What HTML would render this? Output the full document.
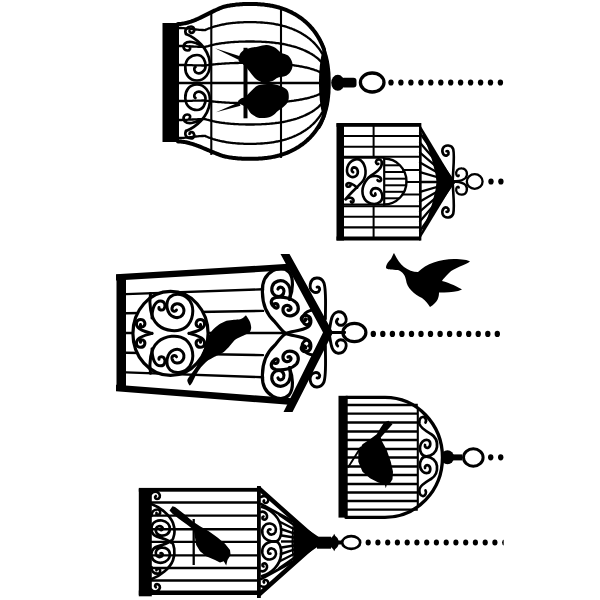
<!DOCTYPE html>
<html><head><meta charset="utf-8"><style>
html,body{margin:0;padding:0;background:#fff;width:600px;height:600px;overflow:hidden}
svg{display:block}
</style></head><body>
<svg width="600" height="600" viewBox="0 0 600 600">
<rect width="600" height="600" fill="#fff"/>
<path d="M178,24 L179,24 L180,23.9 L181,23.9 L182,23.7 L183,23.6 L184,23.4 L185,23.2 L186,23 L187,22.8 L188,22.5 L189,22.2 L190,21.9 L191,21.6 L192,21.2 L193,20.8 L194,20.5 L195,20.1 L196,19.6 L197,19.2 L198,18.8 L199,18.3 L200,17.9 L201,17.4 L202,16.9 L203,16.4 L204,15.9 L205,15.4 L206,14.9 L207,14.4 L208,13.9 L209,13.4 L210,12.9 L211,12.4 L212,11.9 L213,11.4 L214,10.9 L215,10.4 L216,10 L217,9.5 L218,9.1 L219,8.6 L220,8.2 L221,7.8 L222,7.4 L223,7 L224,6.7 L225,6.5 L226,6.3 L227,6 L228,5.8 L229,5.7 L230,5.5 L231,5.3 L232,5.2 L233,5 L234,4.9 L235,4.8 L236,4.6 L237,4.5 L238,4.5 L239,4.4 L240,4.3 L241,4.2 L242,4.2 L243,4.1 L244,4.1 L245,4.1 L246,4 L247,4 L248,4 L249,4 L250,4 L251,4 L252,4 L253,4 L254,4 L255,4.1 L256,4.1 L257,4.1 L258,4.2 L259,4.2 L260,4.3 L261,4.4 L262,4.5 L263,4.5 L264,4.6 L265,4.8 L266,4.9 L267,5 L268,5.2 L269,5.3 L270,5.5 L271,5.7 L272,5.8 L273,6 L274,6.3 L275,6.5 L276,6.7 L277,7 L278,7.2 L279,7.5 L280,7.8 L281,8.1 L282,8.5 L283,8.8 L284,9.2 L285,9.5 L286,9.9 L287,10.3 L288,10.8 L289,11.2 L290,11.7 L291,12.1 L292,12.6 L293,13.2 L294,13.7 L295,14.3 L296,14.9 L297,15.5 L298,16.1 L299,16.8 L300,17.5 L301,18.2 L302,18.9 L303,19.7 L304,20.5 L305,21.4 L306,22.2 L307,23.2 L308,24.1 L309,25.1 L310,26.2 L311,27.3 L312,28.4 L313,29.6 L314,30.9 L315,32.2 L316,33.7 L317,35.2 L318,36.8 L319,38.5 L320,40.3 L321,42.3 L322,44.4 L323,46.8 L324,49.4" fill="none" stroke="#000" stroke-width="4" stroke-linecap="round" stroke-linejoin="round"/>
<path d="M178,141.5 L179,141.5 L180,141.6 L181,141.6 L182,141.7 L183,141.8 L184,142 L185,142.1 L186,142.3 L187,142.5 L188,142.8 L189,143 L190,143.3 L191,143.6 L192,143.9 L193,144.2 L194,144.5 L195,144.9 L196,145.2 L197,145.6 L198,145.9 L199,146.3 L200,146.7 L201,147.1 L202,147.5 L203,148 L204,148.4 L205,148.8 L206,149.2 L207,149.7 L208,150.1 L209,150.5 L210,150.9 L211,151.4 L212,151.8 L213,152.2 L214,152.6 L215,153 L216,153.4 L217,153.8 L218,154.2 L219,154.6 L220,155 L221,155.3 L222,155.7 L223,156 L224,156.2 L225,156.5 L226,156.7 L227,156.9 L228,157.1 L229,157.3 L230,157.4 L231,157.6 L232,157.7 L233,157.9 L234,158 L235,158.1 L236,158.2 L237,158.3 L238,158.4 L239,158.5 L240,158.6 L241,158.6 L242,158.7 L243,158.7 L244,158.8 L245,158.8 L246,158.8 L247,158.8 L248,158.8 L249,158.8 L250,158.8 L251,158.8 L252,158.8 L253,158.8 L254,158.8 L255,158.8 L256,158.8 L257,158.7 L258,158.7 L259,158.6 L260,158.6 L261,158.5 L262,158.4 L263,158.3 L264,158.2 L265,158.1 L266,158 L267,157.9 L268,157.7 L269,157.6 L270,157.4 L271,157.3 L272,157.1 L273,156.9 L274,156.7 L275,156.5 L276,156.2 L277,156 L278,155.7 L279,155.5 L280,155.2 L281,154.9 L282,154.6 L283,154.2 L284,153.9 L285,153.5 L286,153.2 L287,152.8 L288,152.4 L289,151.9 L290,151.5 L291,151 L292,150.5 L293,150 L294,149.5 L295,149 L296,148.4 L297,147.8 L298,147.2 L299,146.6 L300,145.9 L301,145.2 L302,144.5 L303,143.8 L304,143 L305,142.2 L306,141.3 L307,140.5 L308,139.5 L309,138.6 L310,137.6 L311,136.5 L312,135.4 L313,134.2 L314,133 L315,131.7 L316,130.4 L317,128.9 L318,127.4 L319,125.7 L320,124 L321,122.1 L322,120 L323,117.8 L324,115.2" fill="none" stroke="#000" stroke-width="4" stroke-linecap="round" stroke-linejoin="round"/>
<path d="M179,28 L180,28 L181,28 L182,28.1 L183,28.1 L184,28.2 L185,28.3 L186,28.4 L187,28.5 L188,28.6 L189,28.7 L190,28.8 L191,28.9 L192,29 L193,29.2 L194,29.3 L195,29.4 L196,29.5 L197,29.6 L198,29.7 L199,29.8 L200,29.9 L201,29.9 L202,30 L203,30 L204,30.1 L205,30.1 L206,29.6 L207,29.2 L208,28.8 L209,28.4 L210,28.1 L211,27.7 L212,27.4 L213,27 L214,26.7 L215,26.4 L216,26.1 L217,25.9 L218,25.6 L219,25.4 L220,25.1 L221,24.9 L222,24.7 L223,24.5 L224,24.3 L225,24.1 L226,23.9 L227,23.7 L228,23.6 L229,23.4 L230,23.3 L231,23.2 L232,23.1 L233,22.9 L234,22.8 L235,22.8 L236,22.7 L237,22.6 L238,22.5 L239,22.5 L240,22.4 L241,22.3 L242,22.3 L243,22.3 L244,22.2 L245,22.2 L246,22.2 L247,22.2 L248,22.2 L249,22.2 L250,22.2 L251,22.2 L252,22.2 L253,22.2 L254,22.2 L255,22.2 L256,22.2 L257,22.3 L258,22.3 L259,22.3 L260,22.4 L261,22.5 L262,22.5 L263,22.6 L264,22.7 L265,22.8 L266,22.8 L267,22.9 L268,23.1 L269,23.2 L270,23.3 L271,23.4 L272,23.6 L273,23.7 L274,23.9 L275,24.1 L276,24.3 L277,24.5 L278,24.7 L279,24.9 L280,25.1 L281,25.4 L282,25.6 L283,25.9 L284,26.1 L285,26.4 L286,26.7 L287,27 L288,27.4 L289,27.7 L290,28.1 L291,28.4 L292,28.8 L293,29.2 L294,29.6 L295,30.1 L296,30.5 L297,31 L298,31.5 L299,32 L300,32.5 L301,33.1 L302,33.7 L303,34.3 L304,34.9 L305,35.5 L306,36.2 L307,36.9 L308,37.7 L309,38.4 L310,39.2 L311,40.1 L312,41 L313,41.9 L314,42.9 L315,43.9 L316,45 L317,46.2 L318,47.4 L319,48.7 L320,50.1 L321,51.6 L322,53.3" fill="none" stroke="#000" stroke-width="2.3" stroke-linecap="round" stroke-linejoin="round"/>
<path d="M179,46 L180,46 L181,46 L182,46 L183,46.1 L184,46.1 L185,46.1 L186,46.2 L187,46.2 L188,46.3 L189,46.3 L190,46.4 L191,46.4 L192,46.5 L193,46.5 L194,46.6 L195,46.6 L196,46.7 L197,46.7 L198,46.8 L199,46.8 L200,46.8 L201,46.9 L202,46.9 L203,46.9 L204,46.9 L205,46.9 L206,46.6 L207,46.3 L208,46.1 L209,45.8 L210,45.5 L211,45.3 L212,45.1 L213,44.8 L214,44.6 L215,44.4 L216,44.2 L217,44 L218,43.9 L219,43.7 L220,43.5 L221,43.4 L222,43.2 L223,43.1 L224,43 L225,42.8 L226,42.7 L227,42.6 L228,42.5 L229,42.4 L230,42.3 L231,42.2 L232,42.1 L233,42.1 L234,42 L235,41.9 L236,41.9 L237,41.8 L238,41.8 L239,41.7 L240,41.7 L241,41.6 L242,41.6 L243,41.6 L244,41.6 L245,41.6 L246,41.5 L247,41.5 L248,41.5 L249,41.5 L250,41.5 L251,41.5 L252,41.5 L253,41.5 L254,41.5 L255,41.6 L256,41.6 L257,41.6 L258,41.6 L259,41.6 L260,41.7 L261,41.7 L262,41.8 L263,41.8 L264,41.9 L265,41.9 L266,42 L267,42.1 L268,42.1 L269,42.2 L270,42.3 L271,42.4 L272,42.5 L273,42.6 L274,42.7 L275,42.8 L276,43 L277,43.1 L278,43.2 L279,43.4 L280,43.5 L281,43.7 L282,43.9 L283,44 L284,44.2 L285,44.4 L286,44.6 L287,44.8 L288,45.1 L289,45.3 L290,45.5 L291,45.8 L292,46.1 L293,46.3 L294,46.6 L295,46.9 L296,47.2 L297,47.5 L298,47.9 L299,48.2 L300,48.6 L301,49 L302,49.4 L303,49.8 L304,50.2 L305,50.6 L306,51.1 L307,51.6 L308,52.1 L309,52.6 L310,53.2 L311,53.7 L312,54.3 L313,55 L314,55.6 L315,56.4 L316,57.1 L317,57.9 L318,58.7 L319,59.6 L320,60.6 L321,61.6" fill="none" stroke="#000" stroke-width="2.3" stroke-linecap="round" stroke-linejoin="round"/>
<path d="M179,65 L180,65 L181,65 L182,65 L183,65 L184,65 L185,65.1 L186,65.1 L187,65.1 L188,65.1 L189,65.2 L190,65.2 L191,65.2 L192,65.2 L193,65.3 L194,65.3 L195,65.3 L196,65.3 L197,65.4 L198,65.4 L199,65.4 L200,65.4 L201,65.4 L202,65.5 L203,65.5 L204,65.5 L205,65.5 L206,65.3 L207,65.2 L208,65.1 L209,64.9 L210,64.8 L211,64.7 L212,64.6 L213,64.5 L214,64.4 L215,64.3 L216,64.2 L217,64.1 L218,64 L219,63.9 L220,63.8 L221,63.8 L222,63.7 L223,63.6 L224,63.6 L225,63.5 L226,63.4 L227,63.4 L228,63.3 L229,63.3 L230,63.2 L231,63.2 L232,63.1 L233,63.1 L234,63.1 L235,63 L236,63 L237,63 L238,63 L239,62.9 L240,62.9 L241,62.9 L242,62.9 L243,62.9 L244,62.9 L245,62.9 L246,62.9 L247,62.9 L248,62.9 L249,62.9 L250,62.9 L251,62.9 L252,62.9 L253,62.9 L254,62.9 L255,62.9 L256,62.9 L257,62.9 L258,62.9 L259,62.9 L260,62.9 L261,62.9 L262,63 L263,63 L264,63 L265,63 L266,63.1 L267,63.1 L268,63.1 L269,63.2 L270,63.2 L271,63.3 L272,63.3 L273,63.4 L274,63.4 L275,63.5 L276,63.6 L277,63.6 L278,63.7 L279,63.8 L280,63.8 L281,63.9 L282,64 L283,64.1 L284,64.2 L285,64.3 L286,64.4 L287,64.5 L288,64.6 L289,64.7 L290,64.8 L291,64.9 L292,65.1 L293,65.2 L294,65.3 L295,65.5 L296,65.6 L297,65.8 L298,65.9 L299,66.1 L300,66.3 L301,66.5 L302,66.7 L303,66.9 L304,67.1 L305,67.3 L306,67.5 L307,67.7 L308,68 L309,68.2 L310,68.5 L311,68.8 L312,69.1 L313,69.4 L314,69.7 L315,70.1 L316,70.4 L317,70.8 L318,71.2 L319,71.6 L320,72.1" fill="none" stroke="#000" stroke-width="2.3" stroke-linecap="round" stroke-linejoin="round"/>
<path d="M179,83 L180,83 L181,83 L182,83 L183,83 L184,83 L185,83 L186,83 L187,83 L188,83 L189,83 L190,83 L191,83 L192,83 L193,83 L194,83 L195,83 L196,83 L197,83 L198,83 L199,83 L200,83 L201,83 L202,83 L203,83 L204,83 L205,83 L206,83 L207,83 L208,83 L209,83 L210,83 L211,83 L212,83 L213,83 L214,83 L215,83 L216,83 L217,83 L218,83 L219,83 L220,83 L221,83 L222,83 L223,83 L224,83 L225,83 L226,83 L227,83 L228,83 L229,83 L230,83 L231,83 L232,83 L233,83 L234,83 L235,83 L236,83 L237,83 L238,83 L239,83 L240,83 L241,83 L242,83 L243,83 L244,83 L245,83 L246,83 L247,83 L248,83 L249,83 L250,83 L251,83 L252,83 L253,83 L254,83 L255,83 L256,83 L257,83 L258,83 L259,83 L260,83 L261,83 L262,83 L263,83 L264,83 L265,83 L266,83 L267,83 L268,83 L269,83 L270,83 L271,83 L272,83 L273,83 L274,83 L275,83 L276,83 L277,83 L278,83 L279,83 L280,83 L281,83 L282,83 L283,83 L284,83 L285,83 L286,83 L287,83 L288,83 L289,83 L290,83 L291,83 L292,83 L293,83 L294,83 L295,83 L296,83 L297,83 L298,83 L299,83 L300,83 L301,83 L302,83 L303,83 L304,83 L305,83 L306,83 L307,83 L308,83 L309,83 L310,83 L311,83 L312,83 L313,83 L314,83 L315,83 L316,83 L317,83 L318,83 L319,83" fill="none" stroke="#000" stroke-width="2.3" stroke-linecap="round" stroke-linejoin="round"/>
<path d="M179,101 L180,101 L181,101 L182,101 L183,101 L184,101 L185,100.9 L186,100.9 L187,100.9 L188,100.9 L189,100.8 L190,100.8 L191,100.8 L192,100.8 L193,100.7 L194,100.7 L195,100.7 L196,100.7 L197,100.6 L198,100.6 L199,100.6 L200,100.6 L201,100.6 L202,100.5 L203,100.5 L204,100.5 L205,100.5 L206,100.7 L207,100.8 L208,100.9 L209,101.1 L210,101.2 L211,101.3 L212,101.4 L213,101.5 L214,101.6 L215,101.7 L216,101.8 L217,101.9 L218,102 L219,102.1 L220,102.2 L221,102.2 L222,102.3 L223,102.4 L224,102.4 L225,102.5 L226,102.6 L227,102.6 L228,102.7 L229,102.7 L230,102.8 L231,102.8 L232,102.9 L233,102.9 L234,102.9 L235,103 L236,103 L237,103 L238,103 L239,103.1 L240,103.1 L241,103.1 L242,103.1 L243,103.1 L244,103.1 L245,103.1 L246,103.1 L247,103.1 L248,103.1 L249,103.1 L250,103.1 L251,103.1 L252,103.1 L253,103.1 L254,103.1 L255,103.1 L256,103.1 L257,103.1 L258,103.1 L259,103.1 L260,103.1 L261,103.1 L262,103 L263,103 L264,103 L265,103 L266,102.9 L267,102.9 L268,102.9 L269,102.8 L270,102.8 L271,102.7 L272,102.7 L273,102.6 L274,102.6 L275,102.5 L276,102.4 L277,102.4 L278,102.3 L279,102.2 L280,102.2 L281,102.1 L282,102 L283,101.9 L284,101.8 L285,101.7 L286,101.6 L287,101.5 L288,101.4 L289,101.3 L290,101.2 L291,101.1 L292,100.9 L293,100.8 L294,100.7 L295,100.5 L296,100.4 L297,100.2 L298,100.1 L299,99.9 L300,99.7 L301,99.5 L302,99.3 L303,99.1 L304,98.9 L305,98.7 L306,98.5 L307,98.3 L308,98 L309,97.8 L310,97.5 L311,97.2 L312,96.9 L313,96.6 L314,96.3 L315,95.9 L316,95.6 L317,95.2 L318,94.8 L319,94.4 L320,93.9" fill="none" stroke="#000" stroke-width="2.3" stroke-linecap="round" stroke-linejoin="round"/>
<path d="M179,120 L180,120 L181,120 L182,120 L183,119.9 L184,119.9 L185,119.9 L186,119.8 L187,119.8 L188,119.7 L189,119.7 L190,119.6 L191,119.6 L192,119.5 L193,119.5 L194,119.4 L195,119.4 L196,119.3 L197,119.3 L198,119.2 L199,119.2 L200,119.2 L201,119.1 L202,119.1 L203,119.1 L204,119.1 L205,119.1 L206,119.4 L207,119.7 L208,119.9 L209,120.2 L210,120.5 L211,120.7 L212,120.9 L213,121.2 L214,121.4 L215,121.6 L216,121.8 L217,122 L218,122.1 L219,122.3 L220,122.5 L221,122.6 L222,122.8 L223,122.9 L224,123 L225,123.2 L226,123.3 L227,123.4 L228,123.5 L229,123.6 L230,123.7 L231,123.8 L232,123.9 L233,123.9 L234,124 L235,124.1 L236,124.1 L237,124.2 L238,124.2 L239,124.3 L240,124.3 L241,124.4 L242,124.4 L243,124.4 L244,124.4 L245,124.4 L246,124.5 L247,124.5 L248,124.5 L249,124.5 L250,124.5 L251,124.5 L252,124.5 L253,124.5 L254,124.5 L255,124.4 L256,124.4 L257,124.4 L258,124.4 L259,124.4 L260,124.3 L261,124.3 L262,124.2 L263,124.2 L264,124.1 L265,124.1 L266,124 L267,123.9 L268,123.9 L269,123.8 L270,123.7 L271,123.6 L272,123.5 L273,123.4 L274,123.3 L275,123.2 L276,123 L277,122.9 L278,122.8 L279,122.6 L280,122.5 L281,122.3 L282,122.1 L283,122 L284,121.8 L285,121.6 L286,121.4 L287,121.2 L288,120.9 L289,120.7 L290,120.5 L291,120.2 L292,119.9 L293,119.7 L294,119.4 L295,119.1 L296,118.8 L297,118.5 L298,118.1 L299,117.8 L300,117.4 L301,117 L302,116.6 L303,116.2 L304,115.8 L305,115.4 L306,114.9 L307,114.4 L308,113.9 L309,113.4 L310,112.8 L311,112.3 L312,111.7 L313,111 L314,110.4 L315,109.6 L316,108.9 L317,108.1 L318,107.3 L319,106.4 L320,105.4 L321,104.4" fill="none" stroke="#000" stroke-width="2.3" stroke-linecap="round" stroke-linejoin="round"/>
<path d="M179,138 L180,138 L181,138 L182,137.9 L183,137.9 L184,137.8 L185,137.7 L186,137.6 L187,137.5 L188,137.4 L189,137.3 L190,137.2 L191,137.1 L192,137 L193,136.8 L194,136.7 L195,136.6 L196,136.5 L197,136.4 L198,136.3 L199,136.2 L200,136.1 L201,136.1 L202,136 L203,136 L204,135.9 L205,135.9 L206,136.4 L207,136.8 L208,137.2 L209,137.6 L210,137.9 L211,138.3 L212,138.6 L213,139 L214,139.3 L215,139.6 L216,139.9 L217,140.1 L218,140.4 L219,140.6 L220,140.9 L221,141.1 L222,141.3 L223,141.5 L224,141.7 L225,141.9 L226,142.1 L227,142.3 L228,142.4 L229,142.6 L230,142.7 L231,142.8 L232,142.9 L233,143.1 L234,143.2 L235,143.2 L236,143.3 L237,143.4 L238,143.5 L239,143.5 L240,143.6 L241,143.7 L242,143.7 L243,143.7 L244,143.8 L245,143.8 L246,143.8 L247,143.8 L248,143.8 L249,143.8 L250,143.8 L251,143.8 L252,143.8 L253,143.8 L254,143.8 L255,143.8 L256,143.8 L257,143.7 L258,143.7 L259,143.7 L260,143.6 L261,143.5 L262,143.5 L263,143.4 L264,143.3 L265,143.2 L266,143.2 L267,143.1 L268,142.9 L269,142.8 L270,142.7 L271,142.6 L272,142.4 L273,142.3 L274,142.1 L275,141.9 L276,141.7 L277,141.5 L278,141.3 L279,141.1 L280,140.9 L281,140.6 L282,140.4 L283,140.1 L284,139.9 L285,139.6 L286,139.3 L287,139 L288,138.6 L289,138.3 L290,137.9 L291,137.6 L292,137.2 L293,136.8 L294,136.4 L295,135.9 L296,135.5 L297,135 L298,134.5 L299,134 L300,133.5 L301,132.9 L302,132.3 L303,131.7 L304,131.1 L305,130.5 L306,129.8 L307,129.1 L308,128.3 L309,127.6 L310,126.8 L311,125.9 L312,125 L313,124.1 L314,123.1 L315,122.1 L316,121 L317,119.8 L318,118.6 L319,117.3 L320,115.9 L321,114.4 L322,112.7" fill="none" stroke="#000" stroke-width="2.3" stroke-linecap="round" stroke-linejoin="round"/>
<line x1="211.3" y1="11.1" x2="211.3" y2="154.9" stroke="#000" stroke-width="2.1"/>
<line x1="281" y1="8.1" x2="281" y2="157.9" stroke="#000" stroke-width="2.1"/>
<path d="M319.8,37 L320.7,38.5 L321.6,40.1 L322.4,41.6 L323.1,43.1 L323.8,44.7 L324.5,46.2 L325.1,47.7 L325.6,49.3 L326.2,50.8 L326.7,52.3 L327.1,53.9 L327.6,55.4 L328,56.9 L328.3,58.5 L328.7,60 L329,61.5 L329.2,63.1 L329.5,64.6 L329.7,66.1 L329.9,67.7 L330.1,69.2 L330.2,70.7 L330.4,72.3 L330.5,73.8 L330.5,75.3 L330.6,76.9 L330.7,78.4 L330.7,79.9 L330.7,81.5 L330.7,83 L330.7,84.5 L330.7,86.1 L330.7,87.6 L330.6,89.1 L330.5,90.7 L330.5,92.2 L330.4,93.7 L330.2,95.3 L330.1,96.8 L329.9,98.3 L329.7,99.9 L329.5,101.4 L329.2,102.9 L329,104.5 L328.7,106 L328.3,107.5 L328,109.1 L327.6,110.6 L327.1,112.1 L326.7,113.7 L326.2,115.2 L325.6,116.7 L325.1,118.3 L324.5,119.8 L323.8,121.3 L323.1,122.9 L322.4,124.4 L321.6,125.9 L320.7,127.5 L319.8,129 L316.6,129 L317.5,127.5 L318.4,125.9 L319.2,124.4 L319.9,122.9 L320.6,121.3 L321.3,119.8 L321.9,118.3 L322.4,116.7 L322.4,115.2 L322.1,113.7 L321.7,112.1 L321.4,110.6 L321.1,109.1 L320.8,107.5 L320.6,106 L320.4,104.5 L320.2,102.9 L320,101.4 L319.8,99.9 L319.7,98.3 L319.6,96.8 L319.4,95.3 L319.3,93.7 L319.2,92.2 L319.2,90.7 L319.1,89.1 L319.1,87.6 L319,86.1 L319,84.5 L319,83 L319,81.5 L319,79.9 L319.1,78.4 L319.1,76.9 L319.2,75.3 L319.2,73.8 L319.3,72.3 L319.4,70.7 L319.6,69.2 L319.7,67.7 L319.8,66.1 L320,64.6 L320.2,63.1 L320.4,61.5 L320.6,60 L320.8,58.5 L321.1,56.9 L321.4,55.4 L321.7,53.9 L322.1,52.3 L322.4,50.8 L322.4,49.3 L321.9,47.7 L321.3,46.2 L320.6,44.7 L319.9,43.1 L319.2,41.6 L318.4,40.1 L317.5,38.5 L316.6,37Z" fill="#000"/>
<rect x="162.5" y="23" width="16.5" height="119"/>
<ellipse cx="337.8" cy="82.8" rx="6.6" ry="8"/>
<rect x="341" y="77.8" width="15.5" height="9.6" rx="3"/>
<ellipse cx="372.2" cy="82.5" rx="11.8" ry="9.5" fill="none" stroke="#000" stroke-width="3.3"/>
<ellipse cx="391" cy="82.5" rx="2.7" ry="3.1"/>
<ellipse cx="400.9" cy="82.5" rx="2.7" ry="3.1"/>
<ellipse cx="410.9" cy="82.5" rx="2.7" ry="3.1"/>
<ellipse cx="420.9" cy="82.5" rx="2.7" ry="3.1"/>
<ellipse cx="430.8" cy="82.5" rx="2.7" ry="3.1"/>
<ellipse cx="440.8" cy="82.5" rx="2.7" ry="3.1"/>
<ellipse cx="450.7" cy="82.5" rx="2.7" ry="3.1"/>
<ellipse cx="460.6" cy="82.5" rx="2.7" ry="3.1"/>
<ellipse cx="470.6" cy="82.5" rx="2.7" ry="3.1"/>
<ellipse cx="480.6" cy="82.5" rx="2.7" ry="3.1"/>
<ellipse cx="490.5" cy="82.5" rx="2.7" ry="3.1"/>
<ellipse cx="500.4" cy="82.5" rx="2.7" ry="3.1"/>
<path d="M186,34 C196,38 208,48 209.8,62 C211,74 204,80.5 197,80.5 C189,80.5 185,74 185.3,67 C185.5,59 191,55 197,55 C203,55 206,61 205.5,67 C205,72 200,74 197,73 C194,72 193.5,68 195.5,67" fill="none" stroke="#000" stroke-width="2.7" stroke-linecap="round" stroke-linejoin="round"/>
<path transform="translate(0,165) scale(1,-1)" d="M186,34 C196,38 208,48 209.8,62 C211,74 204,80.5 197,80.5 C189,80.5 185,74 185.3,67 C185.5,59 191,55 197,55 C203,55 206,61 205.5,67 C205,72 200,74 197,73 C194,72 193.5,68 195.5,67" fill="none" stroke="#000" stroke-width="2.7" stroke-linecap="round" stroke-linejoin="round"/>
<path d="M186,34 C184,30 187,26.5 191,26.5 C194,26.5 195,30 193.5,32 C192,33.5 189.5,33 189.5,31" fill="none" stroke="#000" stroke-width="2.7" stroke-linecap="round" stroke-linejoin="round"/>
<path transform="translate(0,165) scale(1,-1)" d="M186,34 C184,30 187,26.5 191,26.5 C194,26.5 195,30 193.5,32 C192,33.5 189.5,33 189.5,31" fill="none" stroke="#000" stroke-width="2.7" stroke-linecap="round" stroke-linejoin="round"/>
<path d="M200,45 C195,42 188,40.5 185,43.5 C182,47 184,50.5 187.5,50.5 C190,50.5 191,48 189.5,46.5" fill="none" stroke="#000" stroke-width="2.7" stroke-linecap="round" stroke-linejoin="round"/>
<path transform="translate(0,165) scale(1,-1)" d="M200,45 C195,42 188,40.5 185,43.5 C182,47 184,50.5 187.5,50.5 C190,50.5 191,48 189.5,46.5" fill="none" stroke="#000" stroke-width="2.7" stroke-linecap="round" stroke-linejoin="round"/>
<path d="M248.4,48.5 C250.8,47.9 255.2,47 258.3,46.4 C261.4,45.8 264,44.8 266.8,45 C269.6,45.2 272.9,46.5 275.3,47.8 C277.7,49.1 278.9,51.4 281,52.7 C283.1,54 286.2,53.9 288.1,55.6 C290,57.3 291.7,60.4 292.3,62.7 C292.9,65 292.5,67.6 291.6,69.7 C290.7,71.8 288.9,74.1 286.7,75.4 C284.5,76.7 280.6,76.5 278.2,77.5 C275.8,78.5 274.7,80.3 272.5,81.1 C270.3,81.9 267.4,82.6 265,82.5 C262.6,82.4 260.1,81.7 258,80.5 C255.9,79.3 254.5,77.4 252.7,75.4 C250.9,73.4 248.7,70.2 247,68.3 C245.3,66.4 244.1,65.4 242.7,64.1 C241.3,62.8 238.9,62.2 238.5,60.5 C238.1,58.8 239.1,55.8 240,54 C240.9,52.2 242.6,50.9 244,50 C245.4,49.1 246,49.1 248.4,48.5Z" fill="#000"/>
<path d="M258.3,85.3 C261.4,84.1 266.4,83.9 269.7,83.9 C273,83.9 275.4,84.3 278.2,85.3 C281,86.2 284.9,87.7 286.7,89.6 C288.5,91.5 288.8,94.3 288.8,96.7 C288.8,99.1 288.5,101.4 286.7,103.7 C284.9,106 280.8,108.7 278.2,110.8 C275.6,112.9 274.2,115.3 271.1,116.5 C268,117.7 263,118.4 259.7,117.9 C256.4,117.4 253.3,115.4 251.2,113.7 C249.1,112 248.7,109.5 247,108 C245.3,106.5 242.8,105.6 241.3,104.5 C239.8,103.4 238.1,102.5 238,101.5 C237.9,100.5 239.7,99.3 241,98.5 C242.3,97.7 243.9,98 245.6,96.7 C247.3,95.5 249.1,92.9 251.2,91 C253.3,89.1 255.2,86.5 258.3,85.3Z" fill="#000"/>
<path d="M215,48.3 L240,56.3 L238.5,59.8Z" fill="#000"/>
<path d="M216,112.3 L239,102.3 L240.5,105.8Z" fill="#000"/>
<rect x="243.5" y="47.8" width="4" height="70.5"/>
<rect x="336.5" y="123.3" width="7.5" height="117.2"/>
<rect x="336.5" y="123" width="84" height="3.8"/>
<rect x="336.5" y="236.5" width="84" height="4"/>
<line x1="373.6" y1="126" x2="373.6" y2="157" stroke="#000" stroke-width="2"/>
<line x1="373.6" y1="206" x2="373.6" y2="237" stroke="#000" stroke-width="2"/>
<line x1="344" y1="136" x2="420" y2="136" stroke="#000" stroke-width="2.1"/>
<line x1="344" y1="146.7" x2="420" y2="146.7" stroke="#000" stroke-width="2.1"/>
<line x1="344" y1="156.7" x2="420" y2="156.7" stroke="#000" stroke-width="2.1"/>
<line x1="344" y1="206.3" x2="420" y2="206.3" stroke="#000" stroke-width="2.1"/>
<line x1="344" y1="216.8" x2="420" y2="216.8" stroke="#000" stroke-width="2.1"/>
<line x1="344" y1="227.4" x2="420" y2="227.4" stroke="#000" stroke-width="2.1"/>
<path d="M419,123 L454.5,182 L419,240.5Z" fill="#000"/>
<path d="M421.5,132 L428,148 L432,160 L435.5,174 L436.5,182 L435.5,190 L432,204 L428,216 L421.5,232 Z" fill="#fff"/>
<path d="M420,133 L454,182" fill="none" stroke="#000" stroke-width="2.3" stroke-linecap="round" stroke-linejoin="round"/>
<path d="M420,142.8 L454,182" fill="none" stroke="#000" stroke-width="2.3" stroke-linecap="round" stroke-linejoin="round"/>
<path d="M420,152.6 L454,182" fill="none" stroke="#000" stroke-width="2.3" stroke-linecap="round" stroke-linejoin="round"/>
<path d="M420,162.4 L454,182" fill="none" stroke="#000" stroke-width="2.3" stroke-linecap="round" stroke-linejoin="round"/>
<path d="M420,172.2 L454,182" fill="none" stroke="#000" stroke-width="2.3" stroke-linecap="round" stroke-linejoin="round"/>
<path d="M420,182 L454,182" fill="none" stroke="#000" stroke-width="2.3" stroke-linecap="round" stroke-linejoin="round"/>
<path d="M420,191.8 L454,182" fill="none" stroke="#000" stroke-width="2.3" stroke-linecap="round" stroke-linejoin="round"/>
<path d="M420,201.6 L454,182" fill="none" stroke="#000" stroke-width="2.3" stroke-linecap="round" stroke-linejoin="round"/>
<path d="M420,211.4 L454,182" fill="none" stroke="#000" stroke-width="2.3" stroke-linecap="round" stroke-linejoin="round"/>
<path d="M420,221.2 L454,182" fill="none" stroke="#000" stroke-width="2.3" stroke-linecap="round" stroke-linejoin="round"/>
<path d="M420,231 L454,182" fill="none" stroke="#000" stroke-width="2.3" stroke-linecap="round" stroke-linejoin="round"/>
<line x1="420.2" y1="123" x2="420.2" y2="240.5" stroke="#000" stroke-width="2.3"/>
<path d="M384,158.5 A22.5,23 0 0 1 384,204.5" fill="none" stroke="#000" stroke-width="2.4" stroke-linecap="round" stroke-linejoin="round"/>
<line x1="384.2" y1="157.5" x2="384.2" y2="205.5" stroke="#000" stroke-width="2.2"/>
<line x1="384" y1="165.3" x2="399.6" y2="165.3" stroke="#000" stroke-width="2"/>
<line x1="384" y1="172" x2="404.4" y2="172" stroke="#000" stroke-width="2"/>
<line x1="384" y1="178.7" x2="406.3" y2="178.7" stroke="#000" stroke-width="2"/>
<line x1="384" y1="185.3" x2="406.2" y2="185.3" stroke="#000" stroke-width="2"/>
<line x1="384" y1="191.8" x2="404" y2="191.8" stroke="#000" stroke-width="2"/>
<line x1="384" y1="198.3" x2="399" y2="198.3" stroke="#000" stroke-width="2"/>
<line x1="402.3" y1="170" x2="420" y2="170" stroke="#000" stroke-width="2"/>
<line x1="405.5" y1="182" x2="420" y2="182" stroke="#000" stroke-width="2"/>
<line x1="401.4" y1="194.5" x2="420" y2="194.5" stroke="#000" stroke-width="2"/>
<line x1="344" y1="157.7" x2="384" y2="157.7" stroke="#000" stroke-width="2"/>
<line x1="344" y1="204.6" x2="384" y2="204.6" stroke="#000" stroke-width="2"/>
<path transform="translate(343,155) scale(0.08842)" d="M30,500 C80,430 170,360 220,300 C270,240 270,120 200,60 C140,20 50,80 45,170 C40,240 110,270 150,235 C185,200 165,140 125,140 C95,142 90,185 115,195" fill="none" stroke="#000" stroke-width="29.41" stroke-linecap="round" stroke-linejoin="round"/>
<path transform="translate(343,155) scale(0.08842)" d="M440,90 C440,150 380,190 320,230 C240,290 200,380 230,470 C260,550 360,580 420,530 C470,480 440,380 370,375 C320,375 300,430 330,455 C350,470 375,455 365,435" fill="none" stroke="#000" stroke-width="29.41" stroke-linecap="round" stroke-linejoin="round"/>
<path transform="translate(343,155) scale(0.08842)" d="M440,90 C440,50 400,40 380,60 C365,80 380,110 400,100" fill="none" stroke="#000" stroke-width="29.41" stroke-linecap="round" stroke-linejoin="round"/>
<path transform="translate(343,155) scale(0.08842)" d="M160,370 C120,330 60,300 40,330 C30,360 70,370 85,345" fill="none" stroke="#000" stroke-width="29.41" stroke-linecap="round" stroke-linejoin="round"/>
<path transform="translate(343,155) scale(0.08842)" d="M300,250 C340,230 420,230 430,270 C435,300 400,305 390,285" fill="none" stroke="#000" stroke-width="29.41" stroke-linecap="round" stroke-linejoin="round"/>
<path transform="translate(343,155) scale(0.08842)" d="M30,500 C60,470 120,480 120,520 C118,545 90,545 88,525" fill="none" stroke="#000" stroke-width="29.41" stroke-linecap="round" stroke-linejoin="round"/>
<path transform="translate(436,138) scale(0.14999)" d="M112,272 C115,200 125,120 115,75 C105,45 60,40 45,70 C35,100 55,125 75,115 C90,105 85,85 70,88" fill="none" stroke="#000" stroke-width="17.33" stroke-linecap="round" stroke-linejoin="round"/>
<path transform="translate(436,138) scale(0.14999)" d="M112,308 C115,380 125,460 115,505 C105,535 60,540 45,510 C35,480 55,455 75,465 C90,475 85,495 70,492" fill="none" stroke="#000" stroke-width="17.33" stroke-linecap="round" stroke-linejoin="round"/>
<path d="M453.5,181.5 C457,181 462,181.5 465.5,178 C468.5,174 466.5,168.5 462,168.3 C458,168 455.5,171 456.3,174.5 C456.8,176.5 458.8,176.8 458.8,175.3" fill="none" stroke="#000" stroke-width="2.3" stroke-linecap="round" stroke-linejoin="round"/>
<path transform="translate(0,363) scale(1,-1)" d="M453.5,181.5 C457,181 462,181.5 465.5,178 C468.5,174 466.5,168.5 462,168.3 C458,168 455.5,171 456.3,174.5 C456.8,176.5 458.8,176.8 458.8,175.3" fill="none" stroke="#000" stroke-width="2.3" stroke-linecap="round" stroke-linejoin="round"/>
<ellipse cx="474.7" cy="181.5" rx="7.9" ry="7.3" fill="none" stroke="#000" stroke-width="2.3"/>
<ellipse cx="491" cy="181.5" rx="2.7" ry="3.1"/>
<ellipse cx="500.9" cy="181.5" rx="2.7" ry="3.1"/>
<rect x="116.5" y="274.5" width="9.5" height="116.5"/>
<path d="M116,274.2 L292,263.6 L292,270 L116,280.4Z" fill="#000"/>
<path d="M116,384.7 L292,398.3 L292,405.1 L116,391.3Z" fill="#000"/>
<path d="M126,294.1 L263,289.3" fill="none" stroke="#000" stroke-width="2.4" stroke-linecap="round" stroke-linejoin="round"/>
<path d="M126,313.3 L263,310.9" fill="none" stroke="#000" stroke-width="2.4" stroke-linecap="round" stroke-linejoin="round"/>
<path d="M126,333 L285,333" fill="none" stroke="#000" stroke-width="2.4" stroke-linecap="round" stroke-linejoin="round"/>
<path d="M126,352.7 L263,355.1" fill="none" stroke="#000" stroke-width="2.4" stroke-linecap="round" stroke-linejoin="round"/>
<path d="M126,372.4 L263,377.2" fill="none" stroke="#000" stroke-width="2.4" stroke-linecap="round" stroke-linejoin="round"/>
<ellipse cx="170.5" cy="333.4" rx="37.6" ry="42" fill="#fff" stroke="#000" stroke-width="3.2"/>
<path d="M150.5,293.5 C149,303 150,318 158,325 C165,331 178,333 186,327 C193,321 195,309 190,301 C185,294 176,292 170,297 C165,302 166,314 174,317 C181,319.5 186,313 183,307 C180,302 173,303 172,308 C171.5,311 175,312.5 176.5,310" fill="none" stroke="#000" stroke-width="3" stroke-linecap="round" stroke-linejoin="round"/>
<path transform="translate(0,666.8) scale(1,-1)" d="M150.5,293.5 C149,303 150,318 158,325 C165,331 178,333 186,327 C193,321 195,309 190,301 C185,294 176,292 170,297 C165,302 166,314 174,317 C181,319.5 186,313 183,307 C180,302 173,303 172,308 C171.5,311 175,312.5 176.5,310" fill="none" stroke="#000" stroke-width="3" stroke-linecap="round" stroke-linejoin="round"/>
<path d="M152,318 C152,308 155,301 160.5,301 C165,301 166,306 164,309 C162,311 158.5,310 159,307.5" fill="none" stroke="#000" stroke-width="3" stroke-linecap="round" stroke-linejoin="round"/>
<path transform="translate(0,666.8) scale(1,-1)" d="M152,318 C152,308 155,301 160.5,301 C165,301 166,306 164,309 C162,311 158.5,310 159,307.5" fill="none" stroke="#000" stroke-width="3" stroke-linecap="round" stroke-linejoin="round"/>
<path d="M152,333.4 C147,332 141,331 138,327.5 C135,324 136.5,319.5 140.5,319.5 C144.5,319.5 146,323.5 144,326 C142.5,327.5 140,326.5 140.5,324.5" fill="none" stroke="#000" stroke-width="3" stroke-linecap="round" stroke-linejoin="round"/>
<path transform="translate(0,666.8) scale(1,-1)" d="M152,333.4 C147,332 141,331 138,327.5 C135,324 136.5,319.5 140.5,319.5 C144.5,319.5 146,323.5 144,326 C142.5,327.5 140,326.5 140.5,324.5" fill="none" stroke="#000" stroke-width="3" stroke-linecap="round" stroke-linejoin="round"/>
<path d="M189,333.4 C194,332 200,331 203,327.5 C206,324 204.5,319.5 200.5,319.5 C196.5,319.5 195,323.5 197,326 C198.5,327.5 201,326.5 200.5,324.5" fill="none" stroke="#000" stroke-width="3" stroke-linecap="round" stroke-linejoin="round"/>
<path transform="translate(0,666.8) scale(1,-1)" d="M189,333.4 C194,332 200,331 203,327.5 C206,324 204.5,319.5 200.5,319.5 C196.5,319.5 195,323.5 197,326 C198.5,327.5 201,326.5 200.5,324.5" fill="none" stroke="#000" stroke-width="3" stroke-linecap="round" stroke-linejoin="round"/>
<path d="M246,315.5 C246.7,316 249.1,320.1 249.8,321.5 C250.4,322.9 251.2,326.3 251.2,327.5 C251.2,328.7 250.7,331 249.8,332 C248.8,333 244.7,334.9 243,335.8 C241.3,336.6 237.1,338.3 235.5,339.5 C233.9,340.7 230.9,344.8 229.5,346.2 C228.1,347.7 225.2,351 223.5,352.2 C221.8,353.5 216.4,355.7 214.5,356.8 C212.6,357.8 208.6,360 207,361.2 C205.4,362.5 202.2,365.8 201,367.2 C199.8,368.7 197.5,372.3 196.5,374 C195.5,375.7 193.5,380.2 192.8,381.5 C192,382.8 190.4,385.7 189.8,385.5 C189.1,385.3 187.1,381.3 187.3,380 C187.5,378.7 190.2,375.6 191.2,374 C192.3,372.4 195.3,368.6 196.5,366.5 C197.7,364.4 200.6,358.3 201.5,356 C202.4,353.7 203.8,349.1 204.5,347 C205.2,344.9 206.6,339.9 207.5,338 C208.4,336.1 210.9,332.1 212.2,330.5 C213.6,328.9 217.3,325.6 219,324.5 C220.7,323.4 224.8,321.3 226.5,320.8 C228.2,320.2 232.4,319.9 234,319.7 C235.6,319.5 238.9,319.5 240,319.2 C241.1,319 242.8,317.9 243.5,317.5 C244.2,317.1 245.3,315 246,315.5Z" fill="#000"/>
<path d="M289.5,299 C293,290 294,278 289,272 C284,267 278,268 273,270.7 C265,275 262,283 262.4,292 C262.5,305 266,314 275,322 C279,327 282,331 285.5,333.5" fill="none" stroke="#000" stroke-width="3.2" stroke-linecap="round" stroke-linejoin="round"/>
<path transform="translate(0,667) scale(1,-1)" d="M289.5,299 C293,290 294,278 289,272 C284,267 278,268 273,270.7 C265,275 262,283 262.4,292 C262.5,305 266,314 275,322 C279,327 282,331 285.5,333.5" fill="none" stroke="#000" stroke-width="3.2" stroke-linecap="round" stroke-linejoin="round"/>
<path d="M289.5,299.4 C291,293 291,286 286,282.5 C281,279 274,281 272.2,286.4 C270.5,292 274,296.5 279,296.5 C283,296.5 285,292 283.5,289 C282,286.5 279,286.5 278,289" fill="none" stroke="#000" stroke-width="3.2" stroke-linecap="round" stroke-linejoin="round"/>
<path transform="translate(0,667) scale(1,-1)" d="M289.5,299.4 C291,293 291,286 286,282.5 C281,279 274,281 272.2,286.4 C270.5,292 274,296.5 279,296.5 C283,296.5 285,292 283.5,289 C282,286.5 279,286.5 278,289" fill="none" stroke="#000" stroke-width="3.2" stroke-linecap="round" stroke-linejoin="round"/>
<path d="M274.3,307 C270,304 270,298.5 276,297.5 C283,296.5 292,298 296.5,303 C300,308 298.5,314 292,315.6 C286,317 282.5,313 283,309 C283.5,305.5 288,304 290.3,306.8 C292,309 290,311 288,310" fill="none" stroke="#000" stroke-width="3.2" stroke-linecap="round" stroke-linejoin="round"/>
<path transform="translate(0,667) scale(1,-1)" d="M274.3,307 C270,304 270,298.5 276,297.5 C283,296.5 292,298 296.5,303 C300,308 298.5,314 292,315.6 C286,317 282.5,313 283,309 C283.5,305.5 288,304 290.3,306.8 C292,309 290,311 288,310" fill="none" stroke="#000" stroke-width="3.2" stroke-linecap="round" stroke-linejoin="round"/>
<path d="M274.3,307 C276,309 278.5,308 278,305.5 C277.5,303 274,303 273,305" fill="none" stroke="#000" stroke-width="3.2" stroke-linecap="round" stroke-linejoin="round"/>
<path transform="translate(0,667) scale(1,-1)" d="M274.3,307 C276,309 278.5,308 278,305.5 C277.5,303 274,303 273,305" fill="none" stroke="#000" stroke-width="3.2" stroke-linecap="round" stroke-linejoin="round"/>
<path d="M285.5,333.5 C292,331 302,331 308,327 C312,324 312,317 307,315.5 C303,314.5 300,318 302,320.5 C303.5,322 306,321 305.5,319" fill="none" stroke="#000" stroke-width="3.2" stroke-linecap="round" stroke-linejoin="round"/>
<path transform="translate(0,667) scale(1,-1)" d="M285.5,333.5 C292,331 302,331 308,327 C312,324 312,317 307,315.5 C303,314.5 300,318 302,320.5 C303.5,322 306,321 305.5,319" fill="none" stroke="#000" stroke-width="3.2" stroke-linecap="round" stroke-linejoin="round"/>
<path d="M280.5,254 L289.5,254 L333,332.5 L292.5,412 L283.5,412 L323,332.5Z" fill="#000"/>
<path transform="translate(295,265) scale(0.22502,0.22502)" d="M135,240 C135,180 140,110 128,78 C115,50 75,50 68,85 C62,115 90,130 105,118 C115,108 108,95 98,98" fill="none" stroke="#000" stroke-width="12.89" stroke-linecap="round" stroke-linejoin="round"/>
<path transform="translate(295,400) scale(0.22502,-0.22502)" d="M135,240 C135,180 140,110 128,78 C115,50 75,50 68,85 C62,115 90,130 105,118 C115,108 108,95 98,98" fill="none" stroke="#000" stroke-width="12.89" stroke-linecap="round" stroke-linejoin="round"/>
<path transform="translate(295,265) scale(0.22502,0.22502)" d="M150,300 C160,270 155,215 190,208 C225,205 240,250 215,265 C195,275 175,255 190,240" fill="none" stroke="#000" stroke-width="12.89" stroke-linecap="round" stroke-linejoin="round"/>
<path transform="translate(295,400) scale(0.22502,-0.22502)" d="M150,300 C160,270 155,215 190,208 C225,205 240,250 215,265 C195,275 175,255 190,240" fill="none" stroke="#000" stroke-width="12.89" stroke-linecap="round" stroke-linejoin="round"/>
<path transform="translate(295,265) scale(0.22502,0.22502)" d="M80,200 C40,205 20,240 40,260 C60,275 75,250 60,240" fill="none" stroke="#000" stroke-width="12.89" stroke-linecap="round" stroke-linejoin="round"/>
<path transform="translate(295,400) scale(0.22502,-0.22502)" d="M80,200 C40,205 20,240 40,260 C60,275 75,250 60,240" fill="none" stroke="#000" stroke-width="12.89" stroke-linecap="round" stroke-linejoin="round"/>
<path transform="translate(295,265) scale(0.22502,0.22502)" d="M150,300 L220,300" fill="none" stroke="#000" stroke-width="12.89" stroke-linecap="round" stroke-linejoin="round"/>
<path transform="translate(295,400) scale(0.22502,-0.22502)" d="M150,300 L220,300" fill="none" stroke="#000" stroke-width="12.89" stroke-linecap="round" stroke-linejoin="round"/>
<ellipse cx="354.4" cy="332.5" rx="11.5" ry="9.2" fill="none" stroke="#000" stroke-width="3.2"/>
<ellipse cx="373.3" cy="333.9" rx="2.7" ry="3.1"/>
<ellipse cx="382.8" cy="333.9" rx="2.7" ry="3.1"/>
<ellipse cx="392.4" cy="333.9" rx="2.7" ry="3.1"/>
<ellipse cx="401.9" cy="333.9" rx="2.7" ry="3.1"/>
<ellipse cx="411.5" cy="333.9" rx="2.7" ry="3.1"/>
<ellipse cx="421" cy="333.9" rx="2.7" ry="3.1"/>
<ellipse cx="430.5" cy="333.9" rx="2.7" ry="3.1"/>
<ellipse cx="440.1" cy="333.9" rx="2.7" ry="3.1"/>
<ellipse cx="449.6" cy="333.9" rx="2.7" ry="3.1"/>
<ellipse cx="459.2" cy="333.9" rx="2.7" ry="3.1"/>
<ellipse cx="468.7" cy="333.9" rx="2.7" ry="3.1"/>
<ellipse cx="478.2" cy="333.9" rx="2.7" ry="3.1"/>
<ellipse cx="487.8" cy="333.9" rx="2.7" ry="3.1"/>
<ellipse cx="497.3" cy="333.9" rx="2.7" ry="3.1"/>
<rect x="338.5" y="395.8" width="9.2" height="121.8"/>
<path d="M346,397.4 L385,397.4 A57.5,60 0 0 1 385,517.4 L346,517.4" fill="none" stroke="#000" stroke-width="3.3" stroke-linecap="round" stroke-linejoin="round"/>
<line x1="417.8" y1="408.1" x2="417.8" y2="506.7" stroke="#000" stroke-width="2.1"/>
<line x1="347" y1="405" x2="417.8" y2="405" stroke="#000" stroke-width="2.3"/>
<line x1="347" y1="413.7" x2="417.8" y2="413.7" stroke="#000" stroke-width="2.3"/>
<line x1="347" y1="422.5" x2="417.8" y2="422.5" stroke="#000" stroke-width="2.3"/>
<line x1="347" y1="431.5" x2="417.8" y2="431.5" stroke="#000" stroke-width="2.3"/>
<line x1="347" y1="440" x2="417.8" y2="440" stroke="#000" stroke-width="2.3"/>
<line x1="347" y1="449" x2="417.8" y2="449" stroke="#000" stroke-width="2.3"/>
<line x1="347" y1="457.5" x2="417.8" y2="457.5" stroke="#000" stroke-width="2.3"/>
<line x1="347" y1="466.5" x2="417.8" y2="466.5" stroke="#000" stroke-width="2.3"/>
<line x1="347" y1="475" x2="417.8" y2="475" stroke="#000" stroke-width="2.3"/>
<line x1="347" y1="484" x2="417.8" y2="484" stroke="#000" stroke-width="2.3"/>
<line x1="347" y1="492.5" x2="417.8" y2="492.5" stroke="#000" stroke-width="2.3"/>
<line x1="347" y1="501" x2="417.8" y2="501" stroke="#000" stroke-width="2.3"/>
<line x1="347" y1="509.6" x2="417.8" y2="509.6" stroke="#000" stroke-width="2.3"/>
<path d="M425.5,422.5 C427,420 425,416.5 422.5,417 C419.5,417.5 419,421 419.5,424 C420.5,428 426,431 431,434 C436,437 437.5,442 437,447 C436.5,452 432,456 426.5,456.3 C422,456.5 419.5,452 420,447 C420.5,442 424,439.5 427.5,440 C431,440.5 431,446 428.5,447.5 C426.5,448.5 424.5,447 425,445" fill="none" stroke="#000" stroke-width="2.7" stroke-linecap="round" stroke-linejoin="round"/>
<path transform="translate(0,913) scale(1,-1)" d="M425.5,422.5 C427,420 425,416.5 422.5,417 C419.5,417.5 419,421 419.5,424 C420.5,428 426,431 431,434 C436,437 437.5,442 437,447 C436.5,452 432,456 426.5,456.3 C422,456.5 419.5,452 420,447 C420.5,442 424,439.5 427.5,440 C431,440.5 431,446 428.5,447.5 C426.5,448.5 424.5,447 425,445" fill="none" stroke="#000" stroke-width="2.7" stroke-linecap="round" stroke-linejoin="round"/>
<path d="M388.3,420.8 L392.5,424.2 L386.7,430.8 L380.8,437.5 L381.7,440.8 L386.7,450 L390.8,461.7 L393,471.7 L392.5,479.2 L390,483.3 L386.7,485 L385.8,488.3 L384.7,484.2 L378.3,482.5 L370,478.3 L362.5,471.7 L358.3,461.7 L358.3,451.7 L362.5,444.2 L370,439.2 L376.7,434.2 L380.8,427.5 L384.2,422.5Z" fill="#000"/>
<line x1="361" y1="447" x2="348" y2="467.5" stroke="#000" stroke-width="1.9"/>
<ellipse cx="447.5" cy="457.3" rx="6.5" ry="7"/>
<rect x="450" y="454.4" width="12" height="6"/>
<ellipse cx="473.3" cy="457.5" rx="9.8" ry="8.7" fill="none" stroke="#000" stroke-width="3"/>
<ellipse cx="490.7" cy="457.3" rx="2.7" ry="3.1"/>
<ellipse cx="500.7" cy="457.3" rx="2.7" ry="3.1"/>
<rect x="138.8" y="488.8" width="13" height="107.5"/>
<rect x="138.8" y="487.9" width="120" height="3.8"/>
<rect x="138.8" y="590.5" width="120" height="4.5"/>
<rect x="257" y="486" width="3.8" height="112"/>
<line x1="151" y1="502.5" x2="257" y2="502.5" stroke="#000" stroke-width="2.4"/>
<line x1="151" y1="515.6" x2="257" y2="515.6" stroke="#000" stroke-width="2.4"/>
<line x1="151" y1="529.2" x2="257" y2="529.2" stroke="#000" stroke-width="2.4"/>
<line x1="151" y1="541.9" x2="257" y2="541.9" stroke="#000" stroke-width="2.4"/>
<line x1="151" y1="555.4" x2="257" y2="555.4" stroke="#000" stroke-width="2.4"/>
<line x1="151" y1="568" x2="257" y2="568" stroke="#000" stroke-width="2.4"/>
<line x1="151" y1="580.5" x2="257" y2="580.5" stroke="#000" stroke-width="2.4"/>
<line x1="193.7" y1="519" x2="193.7" y2="565" stroke="#000" stroke-width="2.3"/>
<path d="M172.5,506.2 L175,506.9 L183.8,513.8 L192.5,521.2 L200,526.2 L208.8,531.2 L217.5,537.5 L225,543.8 L230,550 L230.6,555 L227.5,560 L226.2,565.5 L223.8,561.2 L220,562.5 L215,560 L206.2,556.2 L200,551.2 L196.2,545 L195,537.5 L193.8,530 L187.5,525 L178.8,518.8 L172.5,513.8 L169.5,510.5Z" fill="#000"/>
<path d="M151,494 C153,491 157,491 159,493.5 C161,496 159.5,499 157,499 C155,499 154.5,497 155.8,496" fill="none" stroke="#000" stroke-width="2.7" stroke-linecap="round" stroke-linejoin="round"/>
<path transform="translate(0,1083.2) scale(1,-1)" d="M151,494 C153,491 157,491 159,493.5 C161,496 159.5,499 157,499 C155,499 154.5,497 155.8,496" fill="none" stroke="#000" stroke-width="2.7" stroke-linecap="round" stroke-linejoin="round"/>
<path d="M151.8,504.2 C160,507 170,515 173,523 C176,531 174,539 170.9,542.3" fill="none" stroke="#000" stroke-width="2.7" stroke-linecap="round" stroke-linejoin="round"/>
<path transform="translate(0,1083.2) scale(1,-1)" d="M151.8,504.2 C160,507 170,515 173,523 C176,531 174,539 170.9,542.3" fill="none" stroke="#000" stroke-width="2.7" stroke-linecap="round" stroke-linejoin="round"/>
<path d="M151.5,516 C151.5,512 154,509.5 157.5,509.5 C160.5,509.5 161,513 159,514.5 C157.5,515.5 156,514.5 156.5,513" fill="none" stroke="#000" stroke-width="2.7" stroke-linecap="round" stroke-linejoin="round"/>
<path transform="translate(0,1083.2) scale(1,-1)" d="M151.5,516 C151.5,512 154,509.5 157.5,509.5 C160.5,509.5 161,513 159,514.5 C157.5,515.5 156,514.5 156.5,513" fill="none" stroke="#000" stroke-width="2.7" stroke-linecap="round" stroke-linejoin="round"/>
<path d="M170.9,542.3 C168,540 162,538 157,536.6 C152,535 150.5,530 151.8,526 C153,521.5 158,520 162,520.5 C167,521.5 170,525 169.9,529 C169.8,534 165,536 161,535.5 C157,535 155,531.5 156,528.5 C157,526 160,525.5 162,527 C163.5,528.5 162.5,530.5 160.5,530" fill="none" stroke="#000" stroke-width="2.7" stroke-linecap="round" stroke-linejoin="round"/>
<path transform="translate(0,1083.2) scale(1,-1)" d="M170.9,542.3 C168,540 162,538 157,536.6 C152,535 150.5,530 151.8,526 C153,521.5 158,520 162,520.5 C167,521.5 170,525 169.9,529 C169.8,534 165,536 161,535.5 C157,535 155,531.5 156,528.5 C157,526 160,525.5 162,527 C163.5,528.5 162.5,530.5 160.5,530" fill="none" stroke="#000" stroke-width="2.7" stroke-linecap="round" stroke-linejoin="round"/>
<path d="M293.3,519.5 L318.4,536.7 L318.4,546.3 L293.3,563.5Z" fill="#000"/>
<path d="M293.5,519.5 Q289.5,541.5 293.5,563.5 Z" fill="#000"/>
<path d="M259,488.5 L318.5,541.5" fill="none" stroke="#000" stroke-width="4.4" stroke-linecap="round" stroke-linejoin="round"/>
<path transform="translate(0,1083) scale(1,-1)" d="M259,488.5 L318.5,541.5" fill="none" stroke="#000" stroke-width="4.4" stroke-linecap="round" stroke-linejoin="round"/>
<path d="M261,504 L294,522" fill="none" stroke="#000" stroke-width="2.6" stroke-linecap="round" stroke-linejoin="round"/>
<path transform="translate(0,1083) scale(1,-1)" d="M261,504 L294,522" fill="none" stroke="#000" stroke-width="2.6" stroke-linecap="round" stroke-linejoin="round"/>
<path d="M261,497 C263,495.5 267,496 268,498.5 C269,501 267.5,503 265.5,503 C264,503 263,501.5 264,500.5" fill="none" stroke="#000" stroke-width="2.6" stroke-linecap="round" stroke-linejoin="round"/>
<path transform="translate(0,1083) scale(1,-1)" d="M261,497 C263,495.5 267,496 268,498.5 C269,501 267.5,503 265.5,503 C264,503 263,501.5 264,500.5" fill="none" stroke="#000" stroke-width="2.6" stroke-linecap="round" stroke-linejoin="round"/>
<path d="M261,512 C263,511 266.5,512.5 267,515.5 C267.5,518.5 265.5,520 263.5,519.5 C262,519 262,517 263.5,516.5" fill="none" stroke="#000" stroke-width="2.6" stroke-linecap="round" stroke-linejoin="round"/>
<path transform="translate(0,1083) scale(1,-1)" d="M261,512 C263,511 266.5,512.5 267,515.5 C267.5,518.5 265.5,520 263.5,519.5 C262,519 262,517 263.5,516.5" fill="none" stroke="#000" stroke-width="2.6" stroke-linecap="round" stroke-linejoin="round"/>
<path d="M262,507 C272,510 280,518 281,528 C282,536 279,541 276,541.6" fill="none" stroke="#000" stroke-width="2.6" stroke-linecap="round" stroke-linejoin="round"/>
<path transform="translate(0,1083) scale(1,-1)" d="M262,507 C272,510 280,518 281,528 C282,536 279,541 276,541.6" fill="none" stroke="#000" stroke-width="2.6" stroke-linecap="round" stroke-linejoin="round"/>
<path d="M276,541.6 C271,542 264,540 262.5,534 C261,528 265,523 270,523.5 C275,524 277,528.5 275.5,532 C274,535 270,535.5 268.5,533 C267,531 268.5,528.5 270.5,529.5" fill="none" stroke="#000" stroke-width="2.6" stroke-linecap="round" stroke-linejoin="round"/>
<path transform="translate(0,1083) scale(1,-1)" d="M276,541.6 C271,542 264,540 262.5,534 C261,528 265,523 270,523.5 C275,524 277,528.5 275.5,532 C274,535 270,535.5 268.5,533 C267,531 268.5,528.5 270.5,529.5" fill="none" stroke="#000" stroke-width="2.6" stroke-linecap="round" stroke-linejoin="round"/>
<path d="M279.5,515.0 L294.0,524.9" fill="none" stroke="#000" stroke-width="2.4" stroke-linecap="round" stroke-linejoin="round"/>
<path transform="translate(0,1083) scale(1,-1)" d="M279.5,515.0 L294.0,524.9" fill="none" stroke="#000" stroke-width="2.4" stroke-linecap="round" stroke-linejoin="round"/>
<path d="M280.2,522.0 L294.0,529.0" fill="none" stroke="#000" stroke-width="2.4" stroke-linecap="round" stroke-linejoin="round"/>
<path transform="translate(0,1083) scale(1,-1)" d="M280.2,522.0 L294.0,529.0" fill="none" stroke="#000" stroke-width="2.4" stroke-linecap="round" stroke-linejoin="round"/>
<path d="M280.9,529.0 L294.0,533.4" fill="none" stroke="#000" stroke-width="2.4" stroke-linecap="round" stroke-linejoin="round"/>
<path transform="translate(0,1083) scale(1,-1)" d="M280.9,529.0 L294.0,533.4" fill="none" stroke="#000" stroke-width="2.4" stroke-linecap="round" stroke-linejoin="round"/>
<path d="M281.6,535.5 L294.0,537.5" fill="none" stroke="#000" stroke-width="2.4" stroke-linecap="round" stroke-linejoin="round"/>
<path transform="translate(0,1083) scale(1,-1)" d="M281.6,535.5 L294.0,537.5" fill="none" stroke="#000" stroke-width="2.4" stroke-linecap="round" stroke-linejoin="round"/>
<line x1="281" y1="541.5" x2="294" y2="541.5" stroke="#000" stroke-width="2.4"/>
<rect x="317" y="536.7" width="14" height="12"/>
<path d="M329.8,542.5 L334.2,533.8 L338.6,542.5 L334.2,551.2Z" fill="#000"/>
<ellipse cx="334.2" cy="542.5" rx="4.6" ry="6.5"/>
<rect x="337" y="540.5" width="5" height="4"/>
<ellipse cx="351.2" cy="542.5" rx="9" ry="6.4" fill="none" stroke="#000" stroke-width="2.6"/>
<ellipse cx="368.2" cy="542.5" rx="2.6" ry="3"/>
<ellipse cx="377.9" cy="542.5" rx="2.6" ry="3"/>
<ellipse cx="387.7" cy="542.5" rx="2.6" ry="3"/>
<ellipse cx="397.4" cy="542.5" rx="2.6" ry="3"/>
<ellipse cx="407.2" cy="542.5" rx="2.6" ry="3"/>
<ellipse cx="416.9" cy="542.5" rx="2.6" ry="3"/>
<ellipse cx="426.7" cy="542.5" rx="2.6" ry="3"/>
<ellipse cx="436.4" cy="542.5" rx="2.6" ry="3"/>
<ellipse cx="446.2" cy="542.5" rx="2.6" ry="3"/>
<ellipse cx="455.9" cy="542.5" rx="2.6" ry="3"/>
<ellipse cx="465.7" cy="542.5" rx="2.6" ry="3"/>
<ellipse cx="475.4" cy="542.5" rx="2.6" ry="3"/>
<ellipse cx="485.2" cy="542.5" rx="2.6" ry="3"/>
<ellipse cx="494.9" cy="542.5" rx="2.6" ry="3"/>
<clipPath id="cp5"><rect x="495" y="530" width="8.7" height="25"/></clipPath><ellipse cx="504.7" cy="542.5" rx="2.6" ry="3" clip-path="url(#cp5)"/>
<path transform="translate(370,240) scale(0.2)" d="M120,65 C135,95 150,120 170,135 C190,150 215,160 240,160 C280,120 350,95 420,95 C460,95 490,100 500,108 C480,125 420,140 395,165 C380,180 365,195 360,205 C400,215 440,235 460,248 C430,262 380,265 345,262 C345,285 340,310 300,335 C290,320 280,305 260,290 C220,270 185,240 180,200 C175,175 165,160 140,150 C110,148 90,150 80,140 C80,120 95,105 105,95 C110,85 115,72 120,65 Z" fill="#000"/>
</svg></body></html>
